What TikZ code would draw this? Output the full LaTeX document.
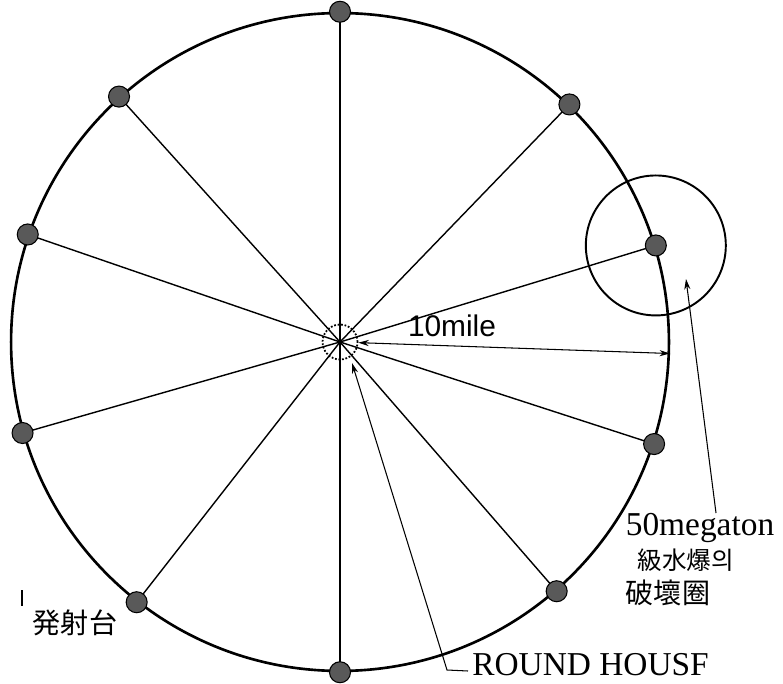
\documentclass[tikz,border=0pt]{standalone}
\usepackage{fontspec}
\setmainfont{Liberation Serif}
\newfontfamily\milefont{Liberation Sans}
\newfontfamily\krfont{Noto Sans CJK KR}
\newfontfamily\jpfont{Noto Sans CJK JP}
\usetikzlibrary{arrows.meta}
\begin{document}
\begin{tikzpicture}[x=0.02cm,y=0.02cm,
    every node/.style={inner sep=0pt},
    ring/.style={circle,draw,line width=1.5pt,minimum size=13.16cm},
    site/.style={circle,draw,line width=0.6pt,fill=black!65,minimum size=0.42cm},
    spoke/.style={line width=0.8pt},
    lead/.style={line width=0.6pt},
    >={Stealth[length=6pt,width=3.5pt]}]
    \useasboundingbox (0,0) rectangle (783,683);

    \node[ring] (ring) at (340,341) {};
    \node[circle,draw,densely dotted,line width=1pt,minimum size=0.7cm] (hub) at (340,341) {};
    \foreach \a [count=\i] in {90,46,17,-18,-49,-90,-128,-164,161,132}
        \draw[spoke] (hub.center) -- (ring.\a) node[site] (s\i) {};

    % blast radius round one site
    \node[circle,draw,line width=1.1pt,minimum size=2.8cm] (blast) at (s3) {};

    \draw[<->,lead] (hub.-2.3) -- (ring.-2.3);
    \node[font=\milefont\fontsize{17}{17}\selectfont] (mile) at (452,357) {10mile};

    \node[font=\fontsize{19}{19}\selectfont] (mega) at (700,155) {50megaton};
    \node[font=\krfont\fontsize{14}{14}\selectfont] (mega2) at (686,123) {級水爆의};
    \node[font=\krfont\fontsize{16}{16}\selectfont] (mega3) at (668,90) {破壞圈};
    \coordinate (megatop) at (716,170);
    \coordinate (blastmark) at (686,404);
    \draw[->,lead] (megatop) -- (blastmark);

    \node[anchor=base west,font=\fontsize{19}{19}\selectfont] (house) at (472,8) {ROUND HOUSF};
    \coordinate (houseend) at (468,12);
    \coordinate (housebend) at (447,13);
    \coordinate (hubfoot) at (352,320);
    \draw[->,lead] (houseend) -- (housebend) -- (hubfoot);

    \node[font=\jpfont\fontsize{16}{16}\selectfont] (pad) at (75,60) {発射台};
    \coordinate (padtop) at (22,93);
    \coordinate (padfoot) at (22,77);
    \draw[lead] (padtop) -- (padfoot);
\end{tikzpicture}
\end{document}
